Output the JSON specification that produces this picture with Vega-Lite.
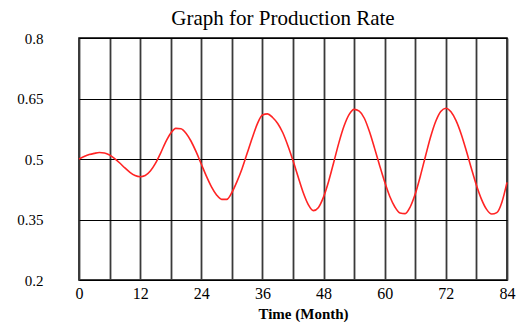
{
  "$schema": "https://vega.github.io/schema/vega-lite/v6.json",
  "width": 428,
  "height": 242,
  "autosize": {"type": "none"},
  "padding": {"left": 79, "top": 38, "right": 16, "bottom": 42},
  "background": "white",
  "title": {
    "text": "Graph for Production Rate",
    "font": "Liberation Serif",
    "fontSize": 21,
    "fontWeight": "normal",
    "color": "black",
    "anchor": "middle",
    "dx": -10,
    "offset": 2
  },
  "config": {
    "view": {"stroke": "black", "strokeWidth": 1.5},
    "axis": {
      "labelFont": "Liberation Serif",
      "titleFont": "Liberation Serif",
      "labelColor": "black",
      "titleColor": "black",
      "domain": false,
      "ticks": false,
      "tickSize": 0
    }
  },
  "data": {
    "values": [
      {"month": 0, "rate": 0.5}, {"month": 1, "rate": 0.506}, {"month": 2, "rate": 0.511},
      {"month": 3, "rate": 0.514}, {"month": 4, "rate": 0.516}, {"month": 5, "rate": 0.515},
      {"month": 6, "rate": 0.51}, {"month": 7, "rate": 0.501}, {"month": 8, "rate": 0.49},
      {"month": 9, "rate": 0.478}, {"month": 10, "rate": 0.467}, {"month": 11, "rate": 0.459},
      {"month": 12, "rate": 0.456}, {"month": 13, "rate": 0.459}, {"month": 14, "rate": 0.47},
      {"month": 15, "rate": 0.489}, {"month": 16, "rate": 0.514}, {"month": 17, "rate": 0.542},
      {"month": 18, "rate": 0.564}, {"month": 19, "rate": 0.576}, {"month": 20, "rate": 0.575},
      {"month": 21, "rate": 0.564}, {"month": 22, "rate": 0.544}, {"month": 23, "rate": 0.5175},
      {"month": 24, "rate": 0.4875}, {"month": 25, "rate": 0.4575}, {"month": 26, "rate": 0.431},
      {"month": 27, "rate": 0.411}, {"month": 28, "rate": 0.4}, {"month": 29, "rate": 0.4},
      {"month": 30, "rate": 0.417}, {"month": 31, "rate": 0.444}, {"month": 32, "rate": 0.476},
      {"month": 33, "rate": 0.514}, {"month": 34, "rate": 0.552}, {"month": 35, "rate": 0.587},
      {"month": 36, "rate": 0.609}, {"month": 37, "rate": 0.612}, {"month": 38, "rate": 0.603},
      {"month": 39, "rate": 0.588}, {"month": 40, "rate": 0.565}, {"month": 41, "rate": 0.533},
      {"month": 42, "rate": 0.496}, {"month": 43, "rate": 0.456}, {"month": 44, "rate": 0.417},
      {"month": 45, "rate": 0.387}, {"month": 46, "rate": 0.372}, {"month": 47, "rate": 0.38},
      {"month": 48, "rate": 0.406}, {"month": 49, "rate": 0.445}, {"month": 50, "rate": 0.492},
      {"month": 51, "rate": 0.54}, {"month": 52, "rate": 0.581}, {"month": 53, "rate": 0.61},
      {"month": 54, "rate": 0.623}, {"month": 55, "rate": 0.6185}, {"month": 56, "rate": 0.601},
      {"month": 57, "rate": 0.568}, {"month": 58, "rate": 0.527}, {"month": 59, "rate": 0.484},
      {"month": 60, "rate": 0.443}, {"month": 61, "rate": 0.407}, {"month": 62, "rate": 0.381},
      {"month": 63, "rate": 0.366}, {"month": 64, "rate": 0.3645}, {"month": 65, "rate": 0.381},
      {"month": 66, "rate": 0.4136}, {"month": 67, "rate": 0.458}, {"month": 68, "rate": 0.507},
      {"month": 69, "rate": 0.5545}, {"month": 70, "rate": 0.593}, {"month": 71, "rate": 0.618},
      {"month": 72, "rate": 0.626}, {"month": 73, "rate": 0.617}, {"month": 74, "rate": 0.595},
      {"month": 75, "rate": 0.562}, {"month": 76, "rate": 0.521}, {"month": 77, "rate": 0.477},
      {"month": 78, "rate": 0.435}, {"month": 79, "rate": 0.4}, {"month": 80, "rate": 0.375},
      {"month": 81, "rate": 0.3635}, {"month": 82, "rate": 0.367}, {"month": 83, "rate": 0.393},
      {"month": 84, "rate": 0.442}
    ]
  },
  "mark": {"type": "line", "color": "#ff2424", "strokeWidth": 1.6, "interpolate": "monotone"},
  "encoding": {
    "x": {
      "field": "month",
      "type": "quantitative",
      "scale": {"domain": [0, 84], "nice": false, "zero": false},
      "axis": {
        "title": "Time (Month)",
        "titleFontSize": 15,
        "titleFontWeight": "bold",
        "titleX": 224,
        "titleY": 33,
        "titleAlign": "center",
        "titleBaseline": "middle",
        "values": [0, 6, 12, 18, 24, 30, 36, 42, 48, 54, 60, 66, 72, 78, 84],
        "labelExpr": "datum.value % 12 === 0 ? datum.label : ''",
        "labelFontSize": 16,
        "labelPadding": 5,
        "labelFlush": false,
        "labelOverlap": false,
        "grid": true,
        "gridColor": "#3a3a3a",
        "gridWidth": 1.8,
        "gridOpacity": 1
      }
    },
    "y": {
      "field": "rate",
      "type": "quantitative",
      "scale": {"domain": [0.2, 0.8], "nice": false, "zero": false},
      "axis": {
        "title": null,
        "values": [0.2, 0.35, 0.5, 0.65, 0.8],
        "format": ".2~f",
        "labelFontSize": 15,
        "labelPadding": 36,
        "labelAlign": "right",
        "labelOverlap": false,
        "grid": true,
        "gridColor": "black",
        "gridWidth": 1.2,
        "gridOpacity": 1,
        "encode": {"labels": {"update": {"dy": {"signal": "(datum.value - 0.5) * 28"}}}}
      }
    }
  }
}
